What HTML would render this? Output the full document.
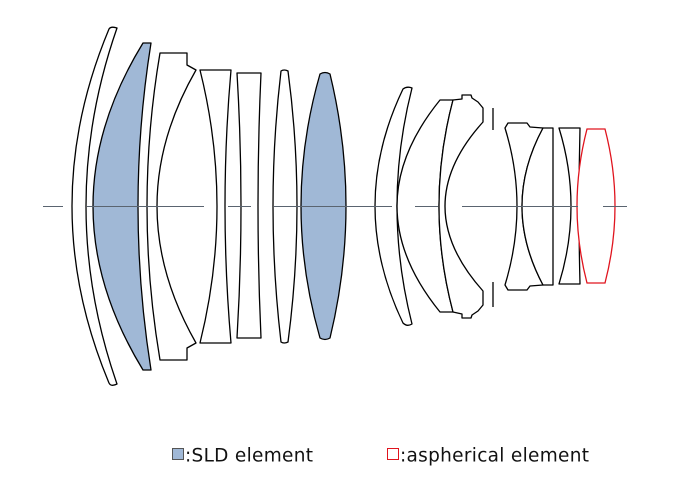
<!DOCTYPE html>
<html><head><meta charset="utf-8"><style>
html,body{margin:0;padding:0;background:#fff;}
svg{display:block;}
</style></head><body>
<svg width="680" height="487" viewBox="0 0 680 487" xmlns="http://www.w3.org/2000/svg">
<g fill="none" stroke="#000" stroke-width="1.3" stroke-linejoin="round">
<path d="M109,29 Q111,26 117,28 Q55,206 117,384 Q111,387 109,383 Q35,206 109,29 Z" fill="#fff"/>
<path d="M143,43 L151,43 Q125,206 151,370 L143,370 Q43,206 143,43 Z" fill="#a0b8d6"/>
<path d="M160,53 L187,53 L187,65 L196,70 Q118,206 196,343 L187,348 L187,360 L160,360 Q134,206 160,53 Z" fill="#fff"/>
<path d="M200,70 L231,70 Q219,206 231,343 L200,343 Q234,206 200,70 Z" fill="#fff"/>
<path d="M237,73 L261,73 Q255,206 261,338 L237,338 Q245,206 237,73 Z" fill="#fff"/>
<path d="M281,71 Q284,69 288,71 Q306,206 288,342 Q284,344 281,342 Q265,206 281,71 Z" fill="#fff"/>
<path d="M320,74 Q325,71 330,74 Q362,206 330,338 Q325,341 320,338 Q282,206 320,74 Z" fill="#a0b8d6"/>
<path d="M403,89 Q407,86 412,88 Q382,206 412,324 Q407,327 403,323 Q347,206 403,89 Z" fill="#fff"/>
<path d="M440,100 L453,100 Q425,206 453,312 L440,312 Q354,206 440,100 Z" fill="#fff"/>
<path d="M453,100 L462,99 L462,95 L471,95 L472,98 L478,102 L483,108 L483,122 Q407,206 483,291 L483,305 L478,311 L472,315 L471,318 L462,318 L462,314 L453,312 Q425,206 453,100 Z" fill="#fff"/>
<path d="M493,108 L493,130 M493,282 L493,307"/>
<path d="M505,128 L508,123 L527,123 L530,127 L543,128 Q501,206 543,285 L530,286 L527,290 L508,290 L505,285 Q529,206 505,128 Z" fill="#fff"/>
<path d="M543,128 L553,128 L553,285 L543,285 Q501,206 543,128 Z" fill="#fff"/>
<path d="M559,128 L580,128 Q578,206 580,284 L559,284 Q583,206 559,128 Z" fill="#fff"/>
</g>
<path d="M587,129 L605,129 Q625,206 605,283 L587,283 Q567,206 587,129 Z" fill="#fff" stroke="#e0141e" stroke-width="1.3"/>
<g stroke="#5a6470" stroke-width="1.1">
<path d="M43,206.5H63 M87,206.5H204 M228,206.5H251 M274,206.5H392 M415,206.5H438 M462,206.5H578 M603,206.5H627"/>
</g>
<rect x="172.5" y="448.5" width="11" height="11" fill="#a0b8d6" stroke="#555" stroke-width="1"/>
<rect x="387.5" y="448.5" width="11" height="11" fill="#fff" stroke="#e0141e" stroke-width="1"/>
<g font-family="DejaVu Sans, Liberation Sans, sans-serif" font-size="18.5" fill="#111" letter-spacing="0.3">
<text x="185" y="461.5">:SLD element</text>
<text x="400" y="461.5">:aspherical element</text>
</g>
</svg>
</body></html>
